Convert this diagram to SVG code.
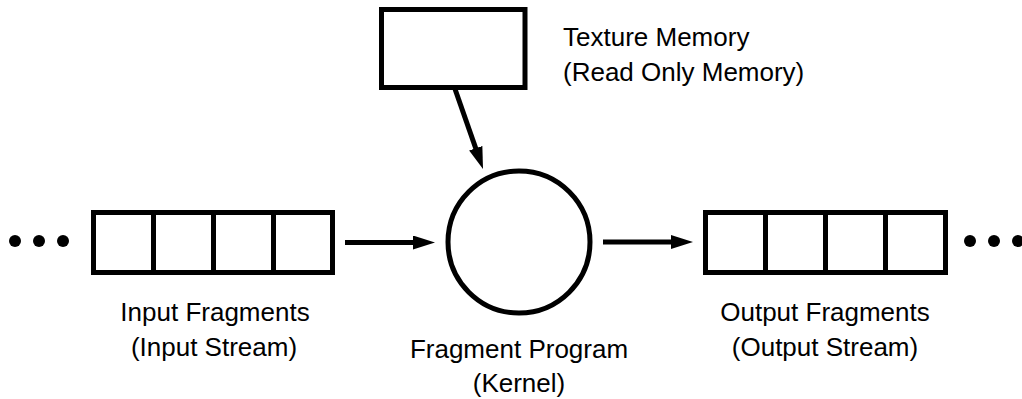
<svg xmlns="http://www.w3.org/2000/svg" width="1022" height="399" viewBox="0 0 1022 399">
<style>
.box{fill:#fff;stroke:#000;stroke-width:5}
.div{stroke:#000;stroke-width:5}
.lbl{font-family:"Liberation Sans",Arial,sans-serif;font-size:26px;fill:#000}
.mid{text-anchor:middle}
.conn{stroke:#000;stroke-width:5;fill:none}
</style>
<defs>
<marker id="ah" markerUnits="userSpaceOnUse" markerWidth="24" markerHeight="16" refX="12" refY="7" orient="auto">
<path d="M0,0 L22,7 L0,14 z" fill="#000"/>
</marker>
</defs>
<rect width="1022" height="399" fill="#fff"/>
<g id="input-dots">
<circle cx="15" cy="241" r="6"/>
<circle cx="39" cy="241" r="6"/>
<circle cx="63" cy="241" r="6"/>
</g>
<g id="input-fragments">
<rect class="box" x="93.5" y="212.5" width="239" height="60"/>
<line class="div" x1="153.5" y1="212.5" x2="153.5" y2="272.5"/>
<line class="div" x1="213.5" y1="212.5" x2="213.5" y2="272.5"/>
<line class="div" x1="273.5" y1="212.5" x2="273.5" y2="272.5"/>
<text class="lbl mid" x="215" y="321">Input Fragments</text>
<text class="lbl mid" x="214" y="356">(Input Stream)</text>
</g>
<g id="texture-memory">
<rect class="box" x="381.5" y="9.5" width="143.5" height="78"/>
<text class="lbl" x="563" y="46">Texture Memory</text>
<text class="lbl" x="563" y="81">(Read Only Memory)</text>
</g>
<g id="fragment-program">
<circle class="box" cx="519" cy="242" r="71"/>
<text class="lbl mid" x="519" y="358">Fragment Program</text>
<text class="lbl mid" x="519" y="392">(Kernel)</text>
</g>
<g id="output-fragments">
<rect class="box" x="705.5" y="212.5" width="240" height="60"/>
<line class="div" x1="765.5" y1="212.5" x2="765.5" y2="272.5"/>
<line class="div" x1="825.5" y1="212.5" x2="825.5" y2="272.5"/>
<line class="div" x1="885.5" y1="212.5" x2="885.5" y2="272.5"/>
<text class="lbl mid" x="825" y="321">Output Fragments</text>
<text class="lbl mid" x="825" y="356">(Output Stream)</text>
</g>
<g id="output-dots">
<circle cx="970" cy="241" r="6"/>
<circle cx="994" cy="241" r="6"/>
<circle cx="1018" cy="241" r="6"/>
</g>
<g id="connectors">
<line class="conn" x1="345" y1="242.5" x2="425" y2="242.5" marker-end="url(#ah)"/>
<line class="conn" x1="603" y1="242" x2="683" y2="242" marker-end="url(#ah)"/>
<line class="conn" x1="455" y1="89" x2="479.7" y2="159.6" marker-end="url(#ah)"/>
</g>
</svg>
